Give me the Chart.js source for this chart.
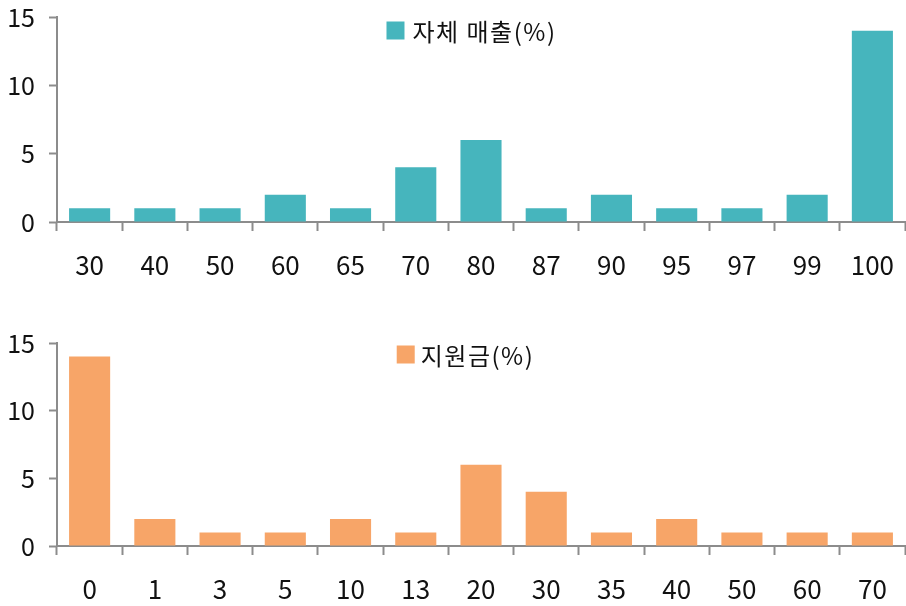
<!DOCTYPE html>
<html>
<head>
<meta charset="utf-8">
<script src="https://cdn.jsdelivr.net/npm/chart.js@4.4.1/dist/chart.umd.min.js"></script>
<style>
  html, body { margin: 0; padding: 0; background: #fff; }
  #wrap { position: relative; width: 906px; height: 606px; overflow: hidden; }
  .panel { position: absolute; left: 0; width: 906px; height: 300px; }
</style>
</head>
<body>
<div id="wrap">
  <div class="panel" style="top:-12px"><canvas id="top" width="906" height="300"></canvas></div>
  <div class="panel" style="top:306px"><canvas id="bottom" width="906" height="300"></canvas></div>
</div>
<script>
// Share of own revenue (%) — number of respondents per level
const salesLabel = '자체 매출(%)';
const salesCategories = ['30', '40', '50', '60', '65', '70', '80', '87', '90', '95', '97', '99', '100'];
const salesCounts = [1, 1, 1, 2, 1, 4, 6, 1, 2, 1, 1, 2, 14];

// Share of subsidies (%) — number of respondents per level
const grantLabel = '지원금(%)';
const grantCategories = ['0', '1', '3', '5', '10', '13', '20', '30', '35', '40', '50', '60', '70'];
const grantCounts = [14, 2, 1, 1, 2, 1, 6, 4, 1, 2, 1, 1, 1];

const yTicks = [0, 5, 10, 15];

const FONT = '"Noto Sans CJK KR", "Noto Sans", sans-serif';
const AXIS = '#8c8c8c';

// Legend box drawn inside the plot area, slightly left of centre
const insideLegend = {
  id: 'insideLegend',
  afterDraw(chart, args, opts) {
    const { ctx, chartArea } = chart;
    const ds = chart.data.datasets[0];
    ctx.save();
    ctx.font = '24px ' + FONT;
    if ('letterSpacing' in ctx) ctx.letterSpacing = '1.5px';
    const textW = ctx.measureText(ds.label).width;
    const box = 18, gap = opts.gap;
    const total = box + gap + textW;
    const cx = (chartArea.left + chartArea.right) / 2 + opts.shiftX;
    const x0 = cx - total / 2;
    const y = chartArea.top + opts.offsetY;
    ctx.fillStyle = ds.backgroundColor;
    ctx.fillRect(x0, y - box / 2, box, box);
    ctx.fillStyle = '#111';
    ctx.textBaseline = 'middle';
    ctx.textAlign = 'left';
    ctx.fillText(ds.label, x0 + box + gap, y + 1);
    ctx.restore();
  }
};

function makeChart(id, labels, values, label, color, topPad, xHeight, legendOpts) {
  return new Chart(document.getElementById(id), {
    type: 'bar',
    data: {
      labels: labels,
      datasets: [{
        label: label,
        data: values,
        backgroundColor: color,
        borderWidth: 0,
        barPercentage: 0.63,
        categoryPercentage: 1.0
      }]
    },
    options: {
      responsive: false,
      animation: false,
      layout: { padding: { top: topPad, right: 1, left: 0, bottom: 0 } },
      plugins: {
        legend: { display: false },
        tooltip: { enabled: false },
        insideLegend: legendOpts
      },
      scales: {
        x: {
          offset: true,
          grid: {
            offset: true,
            drawOnChartArea: false,
            drawTicks: true,
            tickLength: 9,
            tickWidth: 2,
            color: AXIS
          },
          border: { color: AXIS, width: 2 },
          ticks: {
            color: '#111',
            font: { family: FONT, size: 26 },
            padding: 19,
            maxRotation: 0,
            autoSkip: false
          },
          afterFit(scale) {
            scale.height = xHeight;
            scale.paddingLeft = 0;
            scale.paddingRight = 0;
          }
        },
        y: {
          min: 0,
          max: 15,
          afterBuildTicks(scale) { scale.ticks = yTicks.map(v => ({ value: v })); },
          grid: {
            drawOnChartArea: false,
            drawTicks: true,
            tickLength: 8,
            tickWidth: 2,
            color: AXIS
          },
          border: { color: AXIS, width: 2 },
          ticks: {
            color: '#111',
            font: { family: FONT, size: 25 },
            padding: 14
          },
          afterFit(scale) { scale.width = 57; }
        }
      }
    },
    plugins: [insideLegend]
  });
}

makeChart('top', salesCategories, salesCounts, salesLabel, '#46b5bd', 16, 66,
  { shiftX: -9.5, offsetY: 13.5, gap: 8 });
makeChart('bottom', grantCategories, grantCounts, grantLabel, '#f7a568', 37, 60,
  { shiftX: -15.5, offsetY: 11.5, gap: 6 });
</script>
</body>
</html>
